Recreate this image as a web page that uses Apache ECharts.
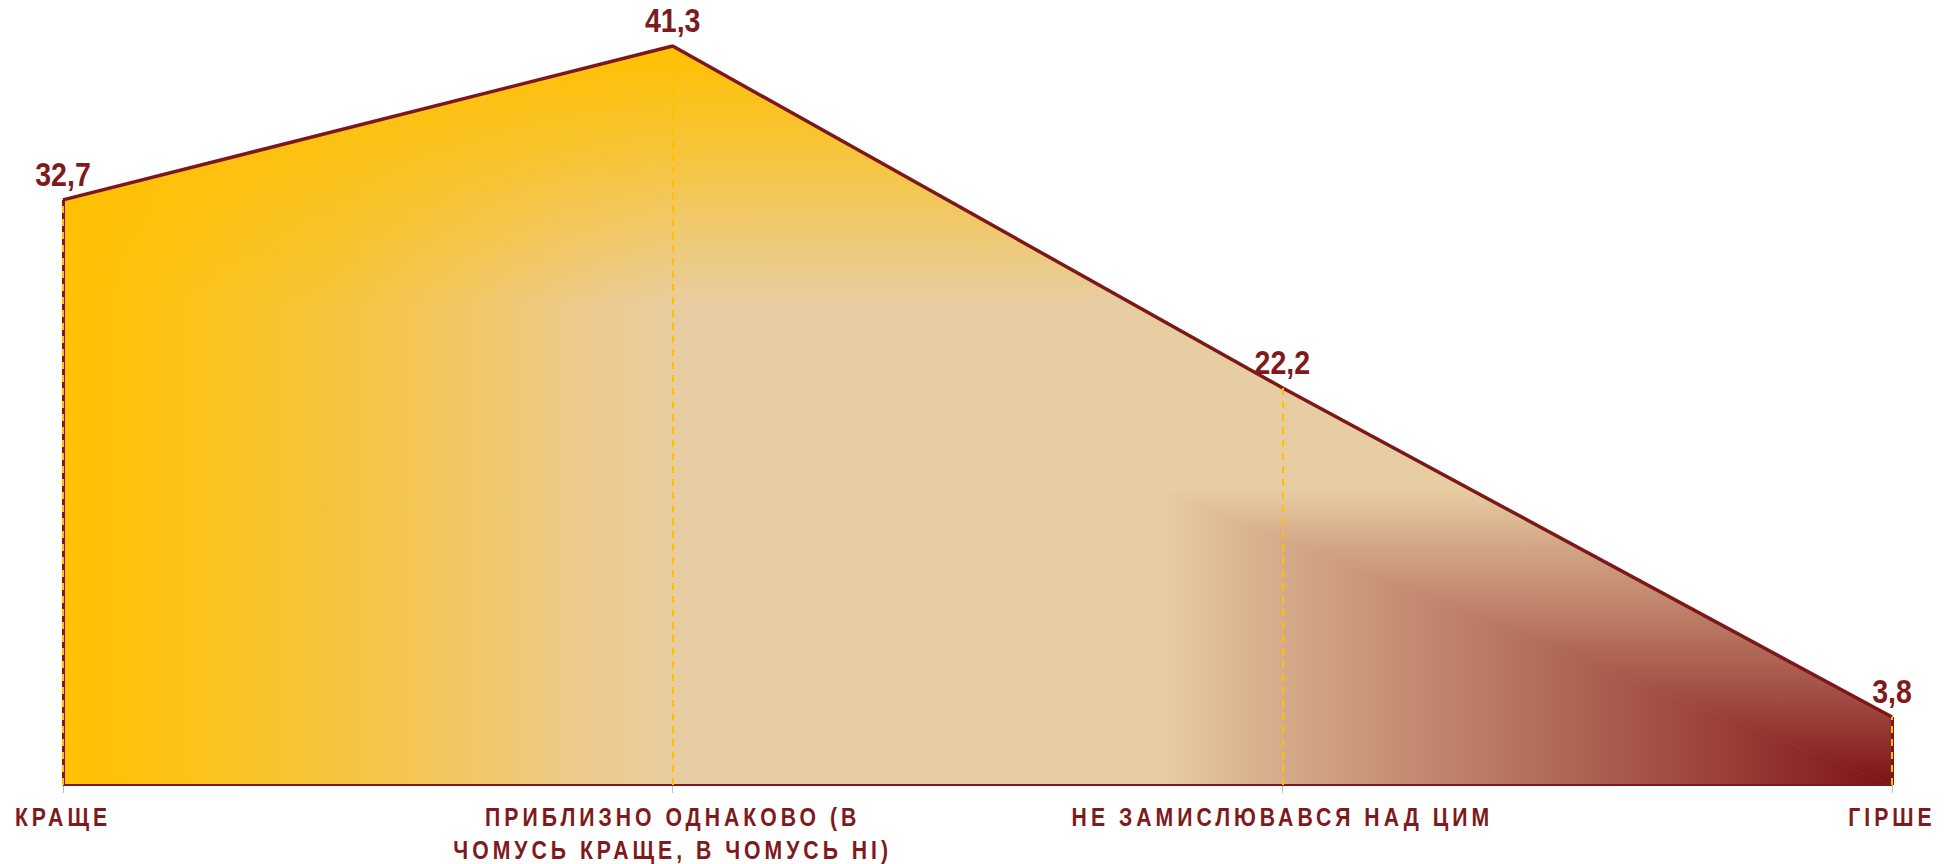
<!DOCTYPE html>
<html>
<head>
<meta charset="utf-8">
<script src="https://cdn.jsdelivr.net/npm/echarts@6/dist/echarts.min.js"></script>
<style>
  html, body { margin: 0; padding: 0; background: #fff; }
  #main { width: 1955px; height: 864px; }
</style>
</head>
<body>
<div id="main"></div>
<script>
// categories and values
var categories = [
  'КРАЩЕ',
  'ПРИБЛИЗНО ОДНАКОВО (В\nЧОМУСЬ КРАЩЕ, В ЧОМУСЬ НІ)',
  'НЕ ЗАМИСЛЮВАВСЯ НАД ЦИМ',
  'ГІРШЕ'
];
var values = [32.7, 41.3, 22.2, 3.8];

var DARK = '#7d1719';
var GOLD = '#ffc000';
var BEIGE = '#e8cda3';
var FONT = "'Liberation Sans', Arial, sans-serif";

var W = 1955, H = 864;
var G_LEFT = 63, G_RIGHT = 63, G_TOP = 46, G_BOTTOM = 79;
var X0 = G_LEFT, X1 = W - G_RIGHT, Y0 = G_TOP, Y1 = H - G_BOTTOM;

var chart = echarts.init(document.getElementById('main'), null, { renderer: 'svg' });

// yellow -> beige, left to right
var baseFill = new echarts.graphic.LinearGradient(X0, 0, X1, 0, [
  { offset: 0, color: '#ffc000' },
  { offset: 0.07, color: '#fcc31a' },
  { offset: 0.15, color: '#f6c43c' },
  { offset: 0.22, color: '#f1c765' },
  { offset: 0.28, color: '#edca8a' },
  { offset: 0.34, color: BEIGE },
  { offset: 1, color: BEIGE }
], true);

// yellow from the top, fading down
var topFill = new echarts.graphic.LinearGradient(0, Y0, 0, Y0 + 260, [
  { offset: 0, color: 'rgba(255,192,0,1)' },
  { offset: 0.4, color: 'rgba(255,192,0,0.65)' },
  { offset: 0.8, color: 'rgba(255,192,0,0.22)' },
  { offset: 1, color: 'rgba(255,192,0,0)' }
], true);

var darkStops = [
  { offset: 0, color: '#7a1417' },
  { offset: 0.04, color: '#811b1b' },
  { offset: 0.285, color: '#a04a40' },
  { offset: 0.54, color: '#b97762' },
  { offset: 0.83, color: '#d5aa88' },
  { offset: 1, color: BEIGE }
];

function clip(poly, g) {
  var out = [];
  for (var i = 0; i < poly.length; i++) {
    var a = poly[i], b = poly[(i + 1) % poly.length];
    var ga = g(a), gb = g(b);
    if (ga >= 0) out.push(a);
    if ((ga >= 0) !== (gb >= 0)) {
      var t = ga / (ga - gb);
      out.push([a[0] + t * (b[0] - a[0]), a[1] + t * (b[1] - a[1])]);
    }
  }
  return out;
}

// dark corner at bottom right, rectangular path gradient
function renderDark(params, api) {
  if (params.dataIndex !== 0) return null;
  var n = values.length;
  var pts = values.map(function (v, i) { return api.coord([i, v]); });
  var b0 = api.coord([0, 0]), b1 = api.coord([n - 1, 0]);
  var poly = pts.concat([b1, b0]);
  var cx = b1[0], cy = b1[1];
  var dw = 732, dh = 295;
  poly = clip(poly, function (p) { return p[0] - (cx - dw); });
  poly = clip(poly, function (p) { return p[1] - (cy - dh); });
  var f = function (p) { return (cx - p[0]) / dw - (cy - p[1]) / dh; };
  var lower = clip(poly, f);
  var upper = clip(poly, function (p) { return -f(p); });
  var fillH = new echarts.graphic.LinearGradient(cx, 0, cx - dw, 0, darkStops, true);
  var fillV = new echarts.graphic.LinearGradient(0, cy, 0, cy - dh, darkStops, true);
  return {
    type: 'group',
    children: [
      { type: 'polygon', shape: { points: lower }, style: { fill: fillH, stroke: fillH, lineWidth: 0.6 } },
      { type: 'polygon', shape: { points: upper }, style: { fill: fillV, stroke: fillV, lineWidth: 0.6 } }
    ]
  };
}

var n = values.length;
var markData = [
  [{ coord: [0, 0], lineStyle: { color: DARK, width: 3, type: 'solid' } },
   { coord: [0, values[0]], lineStyle: { color: DARK, width: 3, type: 'solid' } }],
  [{ coord: [n - 1, 0], lineStyle: { color: DARK, width: 3, type: 'solid' } },
   { coord: [n - 1, values[n - 1]], lineStyle: { color: DARK, width: 3, type: 'solid' } }],
  [{ coord: [0, 0], lineStyle: { color: DARK, width: 2, type: 'solid' } },
   { coord: [n - 1, 0], lineStyle: { color: DARK, width: 2, type: 'solid' } }]
];
values.forEach(function (v, i) {
  markData.push([
    { coord: [i, 0], lineStyle: { color: GOLD, width: 2, type: [7, 6] } },
    { coord: [i, v], lineStyle: { color: GOLD, width: 2, type: [7, 6] } }
  ]);
});

var option = {
  animation: false,
  backgroundColor: '#ffffff',
  grid: { left: G_LEFT, right: G_RIGHT, top: G_TOP, bottom: G_BOTTOM, outerBoundsMode: 'none' },
  xAxis: {
    type: 'category',
    data: categories,
    boundaryGap: false,
    offset: 2,
    axisLine: { lineStyle: { color: '#a6c4e4', width: 1 } },
    axisTick: { show: true, length: 8, lineStyle: { color: '#a6c4e4' } },
    axisLabel: {
      interval: 0,
      color: '#7f1a1c',
      fontFamily: FONT,
      fontWeight: 'bold',
      fontSize: 26.5,
      lineHeight: 33,
      margin: 13
    },
    splitLine: { show: false }
  },
  yAxis: { type: 'value', min: 0, max: 'dataMax', show: false },
  series: [
    {
      name: 'base',
      type: 'line',
      data: values,
      z: 1,
      silent: true,
      symbol: 'none',
      lineStyle: { width: 0, opacity: 0 },
      areaStyle: { color: baseFill, opacity: 1 }
    },
    {
      name: 'top',
      type: 'line',
      data: values,
      z: 2,
      silent: true,
      symbol: 'none',
      lineStyle: { width: 0, opacity: 0 },
      areaStyle: { color: topFill, opacity: 1 }
    },
    {
      name: 'dark',
      type: 'custom',
      data: values.map(function (v, i) { return [i, v]; }),
      z: 3,
      silent: true,
      renderItem: renderDark
    },
    {
      name: 'main',
      type: 'line',
      data: values,
      z: 4,
      silent: true,
      symbol: 'circle',
      symbolSize: 1,
      itemStyle: { color: 'rgba(0,0,0,0)' },
      lineStyle: { color: DARK, width: 3.5 },
      label: {
        show: true,
        position: 'top',
        distance: 8,
        color: '#7f1a1c',
        fontFamily: FONT,
        fontWeight: 'bold',
        fontSize: 34,
        formatter: function (p) { return p.value.toFixed(1).replace('.', ','); }
      },
      markLine: {
        silent: true,
        symbol: 'none',
        animation: false,
        label: { show: false },
        data: markData
      }
    }
  ]
};

chart.setOption(option);

// condensed, spaced-out look of the original typeface
function squeeze(t, sx) {
  var x = parseFloat(t.getAttribute('x') || '0');
  var tr = t.getAttribute('transform') || '';
  t.setAttribute('transform', tr + ' translate(' + x + ',0) scale(' + sx + ',1) translate(' + (-x) + ',0)');
}
function styleLabels() {
  var texts = document.querySelectorAll('#main text');
  texts.forEach(function (t) {
    if (t.getAttribute('data-styled')) return;
    var s = t.textContent;
    if (/[А-ЯІЇЄҐ]/.test(s)) {
      t.setAttribute('letter-spacing', '5');
      t.style.letterSpacing = '5px';
      squeeze(t, 0.8);
      t.setAttribute('data-styled', '1');
    } else if (/^\d+,\d$/.test(s)) {
      squeeze(t, 0.84);
      t.setAttribute('data-styled', '1');
    }
  });
}
styleLabels();
chart.on('finished', styleLabels);
</script>
</body>
</html>
